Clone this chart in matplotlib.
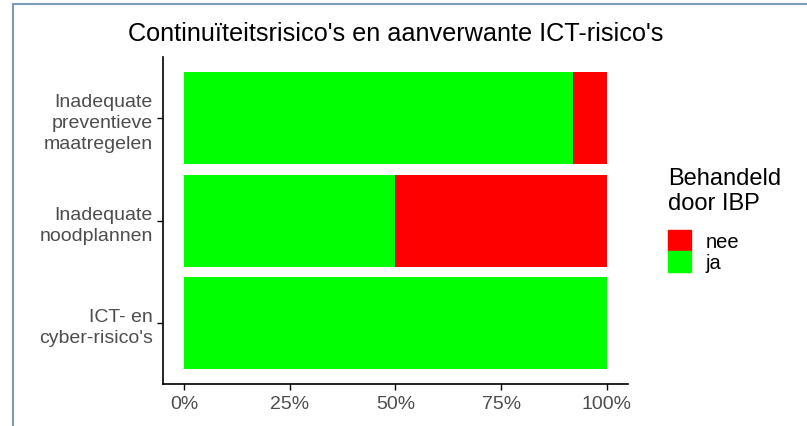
import matplotlib.pyplot as plt
from matplotlib.patches import Rectangle, Patch
from matplotlib.ticker import PercentFormatter

plt.rcParams['font.family'] = ['Liberation Sans', 'DejaVu Sans']

categories = ['Inadequate\npreventieve\nmaatregelen', 'Inadequate\nnoodplannen', "ICT- en\ncyber-risico's"]
ja = [0.92, 0.50, 1.00]
nee = [0.08, 0.50, 0.00]

fig = plt.figure(figsize=(8.07, 4.27), dpi=100)
ax = fig.add_axes([0.202, 0.098, 0.576, 0.766])

ypos = [3, 2, 1]
ax.barh(ypos, ja, height=0.9, color='#00FF00', linewidth=0)
ax.barh(ypos, nee, left=ja, height=0.9, color='#FF0000', linewidth=0)

ax.set_xlim(-0.05, 1.05)
ax.set_ylim(0.4, 3.6)
ax.set_xticks([0, 0.25, 0.5, 0.75, 1.0])
ax.xaxis.set_major_formatter(PercentFormatter(1.0, decimals=0))
ax.set_yticks(ypos)
ax.set_yticklabels(categories, linespacing=1.3)
ax.tick_params(axis='both', colors='black', labelcolor='#4D4D4D', labelsize=14, length=4, width=1)
for s in ['top', 'right']:
    ax.spines[s].set_visible(False)
for s in ['left', 'bottom']:
    ax.spines[s].set_linewidth(1.2)

ax.set_title("Continuïteitsrisico's en aanverwante ICT-risico's", fontsize=18.2, pad=12)

# legend title drawn separately so the gap to the keys matches
fig.text(0.828, 0.607, 'Behandeld\ndoor IBP', fontsize=17, va='top', ha='left')
handles = [Patch(color='#FF0000'), Patch(color='#00FF00')]
leg = fig.legend(handles, ['nee', 'ja'], loc='upper left',
                 bbox_to_anchor=(0.828, 0.459), frameon=False, fontsize=14.5,
                 handlelength=1.15, handleheight=1.2,
                 handletextpad=0.7, labelspacing=0.0, borderaxespad=0, borderpad=0)

# frame of the original screenshot
fig.add_artist(Rectangle((0.016, -0.05), 1.2, 1.038, transform=fig.transFigure,
                         fill=False, edgecolor='#7F9AB5', linewidth=1.5))

fig.savefig('out.png', dpi=100)
